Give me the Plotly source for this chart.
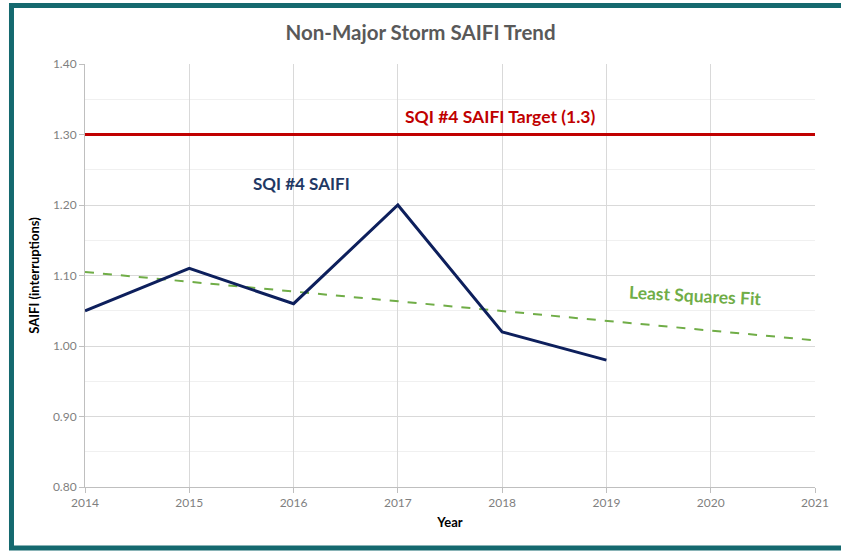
import plotly.graph_objects as go

years = [2014, 2015, 2016, 2017, 2018, 2019]
saifi = [1.05, 1.11, 1.06, 1.20, 1.02, 0.98]

target_years = [2014, 2021]
target_vals = [1.30, 1.30]

fit_years = [2014, 2021]
fit_vals = [1.105, 1.008]

x_ticks = [2014, 2015, 2016, 2017, 2018, 2019, 2020, 2021]
y_ticks = [0.80, 0.90, 1.00, 1.10, 1.20, 1.30, 1.40]

FONT = "Lato"
TEAL = "#15696F"

fig = go.Figure()

# Zielwert
fig.add_trace(
    go.Scatter(
        x=target_years,
        y=target_vals,
        mode="lines",
        line=dict(color="#C00000", width=3),
        hoverinfo="skip",
        showlegend=False,
    )
)

# Trendlinie
fig.add_trace(
    go.Scatter(
        x=fit_years,
        y=fit_vals,
        mode="lines",
        line=dict(color="#70AD47", width=2, dash="dash"),
        hoverinfo="skip",
        showlegend=False,
    )
)

# SAIFI-Werte
fig.add_trace(
    go.Scatter(
        x=years,
        y=saifi,
        mode="lines",
        line=dict(color="#0D1F5C", width=3),
        hovertemplate="%{y:.2f}<extra></extra>",
        showlegend=False,
    )
)

fig.add_annotation(
    x=2017.98, y=1.326, text="<b>SQI #4 SAIFI Target (1.3)</b>", showarrow=False,
    font=dict(family=FONT, size=17.5, color="#C00000"),
)
fig.add_annotation(
    x=2016.08, y=1.230, text="<b>SQI #4 SAIFI</b>", showarrow=False,
    font=dict(family=FONT, size=17, color="#1F3864"),
)
fig.add_annotation(
    x=2019.85, y=1.071, text="<b>Least Squares Fit</b>", showarrow=False, textangle=3,
    font=dict(family=FONT, size=17.5, color="#70AD47"),
)

# Rahmen
fig.add_shape(
    type="rect", xref="paper", yref="paper",
    x0=-0.1007, x1=1.05, y0=-0.1442, y1=1.1383,
    line=dict(color=TEAL, width=5), fillcolor="rgba(0,0,0,0)", layer="above",
)

fig.update_layout(
    width=841,
    height=553,
    margin=dict(l=85, r=26, t=64, b=66),
    paper_bgcolor="white",
    plot_bgcolor="white",
    title=dict(
        text="<b>Non-Major Storm SAIFI Trend</b>",
        x=0.5, xanchor="center", y=0.94, yanchor="middle",
        font=dict(family=FONT, size=20.5, color="#595959"),
    ),
    xaxis=dict(
        range=[2014, 2021],
        tickvals=x_ticks,
        showgrid=True,
        gridcolor="#D9D9D9",
        zeroline=False,
        showline=True,
        linecolor="#BFBFBF",
        ticks="outside",
        ticklen=5,
        tickcolor="#BFBFBF",
        tickfont=dict(family=FONT, size=12, color="#7F7F7F"),
        title=dict(text="<b>Year</b>", font=dict(family=FONT, size=13, color="#000000"), standoff=8),
    ),
    yaxis=dict(
        range=[0.80, 1.40],
        tickvals=y_ticks,
        tickformat=".2f",
        showgrid=True,
        gridcolor="#D9D9D9",
        zeroline=False,
        showline=True,
        linecolor="#BFBFBF",
        ticks="outside",
        ticklen=5,
        tickcolor="#BFBFBF",
        tickfont=dict(family=FONT, size=12, color="#7F7F7F"),
        minor=dict(dtick=0.05, showgrid=True, gridcolor="#F0F0F0", ticks=""),
        title=dict(text="<b>SAIFI (interruptions)</b>", font=dict(family=FONT, size=13, color="#000000"), standoff=10),
    ),
)

fig.write_html(
    "out.html",
    config={"displayModeBar": False},
    post_script="document.body.style.margin='0';",
)
